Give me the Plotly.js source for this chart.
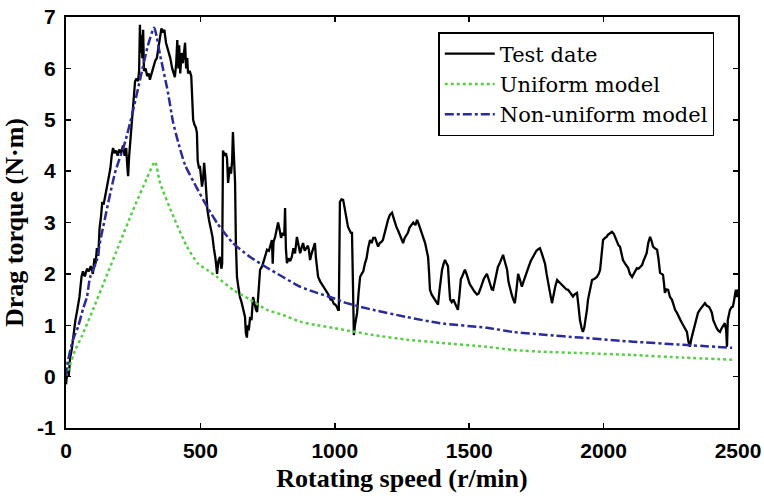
<!DOCTYPE html>
<html>
<head>
<meta charset="utf-8">
<script src="https://cdn.plot.ly/plotly-3.0.1.min.js"></script>
<style>html,body{margin:0;padding:0;background:#fff;}#chart{width:764px;height:500px;}</style>
</head>
<body>
<div id="chart"></div>
<script>
// Test data (measured drag torque)
const testSpeed = [0,5,10,15,22,30,35,42,50,58,63,70,78,85,92,100,106,110,115,120,125,130,135,140,148,155,160,165,170,175,180,186,192,198,205,212,218,224,228,231,235,238,243,248,252,257,262,268,272,275,278,281,284,287,290,296,302,308,312,318,325,332,338,345,350,355,360,366,372,380,388,395,400,405,410,414,418,421,425,430,435,440,443,447,451,454,460,466,470,473,478,483,487,490,495,498,502,506,510,514,518,522,526,532,538,545,550,556,562,567,573,578,581,584,590,595,599,603,607,610,614,618,621,624,629,632,636,641,647,653,660,666,669,673,676,680,685,690,696,702,707,711,716,722,730,738,748,755,761,766,769,772,778,783,789,795,800,806,812,815,818,822,828,834,840,846,852,859,865,871,876,882,888,894,900,904,908,914,920,926,930,934,938,946,952,958,964,970,976,984,990,996,1002,1008,1012,1015,1019,1025,1031,1036,1040,1045,1049,1055,1060,1064,1066,1068,1071,1075,1079,1083,1088,1094,1100,1106,1112,1118,1124,1131,1137,1143,1150,1155,1161,1167,1173,1179,1185,1191,1198,1205,1213,1218,1224,1230,1235,1242,1248,1254,1260,1266,1272,1278,1285,1292,1300,1306,1310,1316,1322,1330,1336,1342,1347,1351,1354,1360,1366,1373,1378,1384,1390,1396,1399,1405,1410,1416,1421,1425,1429,1435,1441,1447,1452,1458,1464,1469,1473,1479,1484,1490,1496,1502,1508,1514,1520,1529,1535,1541,1548,1554,1560,1566,1572,1578,1584,1589,1595,1601,1607,1613,1619,1626,1632,1637,1641,1646,1652,1658,1664,1670,1676,1682,1688,1696,1702,1708,1715,1722,1729,1737,1744,1750,1757,1763,1770,1776,1782,1788,1793,1800,1808,1814,1820,1827,1833,1840,1849,1855,1861,1868,1874,1880,1886,1892,1901,1906,1912,1918,1923,1928,1933,1938,1942,1950,1957,1965,1975,1982,1987,1993,1998,2005,2011,2016,2024,2031,2038,2044,2050,2056,2061,2066,2072,2080,2086,2091,2098,2106,2112,2118,2124,2130,2137,2143,2148,2154,2160,2166,2173,2178,2184,2190,2199,2204,2210,2216,2221,2225,2228,2234,2240,2247,2254,2260,2266,2273,2280,2286,2292,2298,2304,2310,2315,2321,2327,2333,2339,2345,2351,2358,2366,2371,2377,2384,2392,2398,2403,2408,2414,2420,2426,2433,2440,2446,2451,2456,2459,2462,2466,2470,2476,2481,2486,2492,2496,2500];
const testTorque = [-0.15,0.1,0.0,0.35,0.55,0.9,1.1,1.3,1.55,1.95,2.05,1.95,2.1,2.05,2.15,2.0,2.3,2.2,2.5,2.35,2.9,3.1,3.4,3.35,3.6,3.75,3.9,4.05,4.3,4.45,4.35,4.4,4.3,4.42,4.35,4.5,4.3,4.45,4.1,3.9,4.3,4.5,4.9,5.3,5.5,5.75,5.8,5.75,5.95,6.85,6.3,6.65,6.2,6.75,5.95,6.0,5.85,5.9,5.78,5.9,6.0,6.15,6.2,6.45,6.6,6.78,6.7,6.75,6.5,6.35,6.2,6.0,5.9,5.83,6.1,6.55,6.0,6.45,5.9,6.3,6.1,6.45,6.5,6.0,6.2,5.9,5.95,5.85,5.5,5.0,4.9,4.85,4.75,4.2,4.05,4.1,3.9,3.7,3.85,4.16,3.9,3.5,3.25,3.05,2.9,2.72,2.5,2.3,2.0,2.25,2.33,2.1,2.2,4.4,4.3,4.35,4.25,3.77,3.95,4.08,3.95,4.2,4.76,4.3,3.77,2.6,1.94,1.75,1.55,1.45,1.3,1.16,0.85,0.76,1.0,0.9,1.16,1.1,1.55,1.4,1.3,1.26,1.7,2.08,2.15,2.3,2.47,2.45,2.6,2.66,2.2,2.62,2.72,2.85,3.0,2.85,2.7,2.8,2.75,3.28,2.5,2.21,2.3,2.25,2.33,2.5,2.4,2.72,2.55,2.4,2.5,2.6,2.45,2.5,2.55,2.45,2.27,2.4,2.5,2.6,2.3,2.1,1.94,1.85,1.8,1.75,1.69,1.65,1.6,1.5,1.5,1.42,1.4,1.36,1.3,1.3,3.4,3.45,3.44,3.3,3.2,3.05,2.92,2.85,2.8,2.8,2.0,1.3,0.81,1.0,1.1,1.24,1.6,1.94,2.0,2.05,2.2,2.3,2.5,2.66,2.6,2.7,2.7,2.6,2.53,2.6,2.62,2.66,2.8,2.9,3.05,3.15,3.19,3.1,2.99,2.9,2.85,2.75,2.7,2.6,2.7,2.75,2.8,2.9,2.95,3.0,2.95,3.05,3.0,2.9,2.8,2.7,2.6,2.45,2.33,2.0,1.69,1.6,1.55,1.5,1.45,1.4,1.7,2.0,2.08,2.2,2.27,2.2,2.15,1.8,1.5,1.45,1.5,1.43,1.35,1.3,1.6,1.9,1.94,2.0,2.08,2.0,1.88,1.8,1.75,1.69,1.65,1.6,1.62,1.7,1.82,1.9,1.95,2.0,1.9,1.8,1.7,1.69,1.85,2.0,2.14,2.2,2.3,2.37,2.25,2.15,2.08,1.85,1.69,1.6,1.5,1.43,1.7,2.0,1.9,1.75,1.85,1.95,2.08,2.15,2.25,2.33,2.4,2.45,2.48,2.5,2.4,2.3,2.2,2.0,1.82,1.65,1.43,1.6,1.75,1.88,1.85,1.8,1.75,1.72,1.7,1.69,1.65,1.6,1.56,1.6,1.63,1.4,1.1,0.95,0.87,0.95,1.1,1.3,1.5,1.7,1.88,1.9,1.94,2.0,2.08,2.4,2.66,2.7,2.72,2.76,2.8,2.82,2.78,2.7,2.62,2.55,2.53,2.4,2.27,2.2,2.15,2.12,2.0,1.94,2.0,2.05,2.11,2.1,2.15,2.17,2.25,2.33,2.4,2.6,2.72,2.65,2.53,2.5,2.47,2.3,2.02,2.0,1.98,1.8,1.63,1.7,1.69,1.55,1.5,1.4,1.3,1.24,1.15,1.1,1.04,0.98,0.92,0.87,0.7,0.58,0.75,0.87,1.0,1.1,1.24,1.3,1.36,1.4,1.43,1.38,1.36,1.3,1.24,1.1,1.01,0.95,0.9,0.87,0.95,1.0,1.04,0.9,0.58,1.1,1.25,1.3,1.35,1.36,1.5,1.69,1.55,1.7];

// Uniform model
const uniformSpeed = [0,33,60,100,150,200,250,300,331,350,405,450,491,524,562,621,685,748,807,871,934,993,1045,1142,1268,1391,1566,1663,1789,1912,2109,2295,2478];
const uniformTorque = [0.0,0.5,0.8,1.3,1.95,2.6,3.25,3.85,4.18,3.77,3.05,2.53,2.2,2.08,1.94,1.69,1.5,1.3,1.2,1.07,1.0,0.95,0.9,0.81,0.72,0.66,0.58,0.52,0.48,0.46,0.42,0.37,0.33];

// Non-uniform model
const nonUniformSpeed = [0,3,26,45,64,78,89,115,126,182,220,246,275,305,328,350,379,398,417,443,487,517,562,621,685,748,807,871,934,993,1045,1142,1268,1391,1566,1663,1789,1912,2109,2295,2478];
const nonUniformTorque = [0.0,0.19,0.72,0.97,1.33,1.55,1.92,2.27,2.6,3.96,4.57,5.1,5.77,6.45,6.79,6.26,5.54,4.96,4.57,4.12,3.67,3.38,2.99,2.6,2.33,2.12,1.94,1.75,1.63,1.53,1.43,1.3,1.16,1.04,0.95,0.87,0.81,0.76,0.68,0.62,0.56];

const xTicks = [0,500,1000,1500,2000,2500];
const yTicks = [-1,0,1,2,3,4,5,6,7];

const traces = [
  {x: testSpeed, y: testTorque, type: 'scatter', mode: 'lines', name: 'Test date',
   line: {color: '#000000', width: 2.3}},
  {x: uniformSpeed, y: uniformTorque, type: 'scatter', mode: 'lines', name: 'Uniform model',
   line: {color: '#55d045', width: 2.5, dash: 'dot', shape: 'spline', smoothing: 0.6}},
  {x: nonUniformSpeed, y: nonUniformTorque, type: 'scatter', mode: 'lines', name: 'Non-uniform model',
   line: {color: '#2a2a9a', width: 2.5, dash: 'dashdot', shape: 'spline', smoothing: 0.6}}
];

const tickFont = {family: 'Liberation Sans, Arial, sans-serif', size: 21, color: '#000', weight: 'bold'};
const titleFont = {family: 'Liberation Serif, Times New Roman, serif', size: 26, color: '#000', weight: 'bold'};

const layout = {
  width: 764, height: 500,
  margin: {l: 66, r: 26, t: 17, b: 72},
  paper_bgcolor: '#fff', plot_bgcolor: '#fff',
  showlegend: true,
  legend: {
    x: 0.554, y: 0.9635, xanchor: 'left', yanchor: 'top',
    bgcolor: '#fff', bordercolor: '#000', borderwidth: 1.5,
    font: {family: 'DejaVu Serif, Liberation Serif, serif', size: 21, color: '#000'},
    itemwidth: 50, tracegroupgap: 0
  },
  xaxis: {
    range: [0, 2500], tickvals: xTicks, ticktext: xTicks.map(String),
    showgrid: false, zeroline: false,
    showline: true, linecolor: '#000', linewidth: 2, mirror: 'ticks',
    ticks: 'inside', ticklen: 5, tickwidth: 1.5, tickcolor: '#000',
    tickfont: tickFont, ticklabelstandoff: 3,
    title: {text: 'Rotating speed (r/min)', font: titleFont, standoff: 8}
  },
  yaxis: {
    range: [-1, 7], tickvals: yTicks, ticktext: yTicks.map(String),
    showgrid: false, zeroline: false,
    showline: true, linecolor: '#000', linewidth: 2, mirror: 'ticks',
    ticks: 'inside', ticklen: 5, tickwidth: 1.5, tickcolor: '#000',
    tickfont: tickFont, ticklabelstandoff: 4,
    title: {text: 'Drag torque (N·m)', font: titleFont, standoff: 6}
  }
};

Plotly.newPlot('chart', traces, layout, {staticPlot: true, displayModeBar: false});
</script>
</body>
</html>
